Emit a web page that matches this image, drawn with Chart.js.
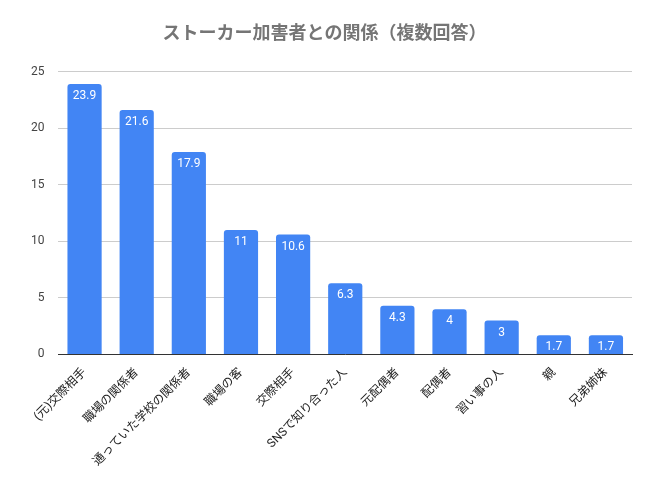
<!DOCTYPE html>
<html>
<head>
<meta charset="utf-8">
<script src="https://cdn.jsdelivr.net/npm/chart.js@4"></script>
<style>
body { margin: 0; background: #fff; }
#wrap { width: 652px; height: 478px; }
</style>
</head>
<body>
<div id="wrap"><canvas id="chart"></canvas></div>
<script>
const categories = ['(元)交際相手', '職場の関係者', '通っていた学校の関係者', '職場の客', '交際相手',
    'SNSで知り合った人', '元配偶者', '配偶者', '習い事の人', '親', '兄弟姉妹'];
const values = [23.9, 21.6, 17.9, 11, 10.6, 6.3, 4.3, 4, 3, 1.7, 1.7];
const yTicks = [0, 5, 10, 15, 20, 25];

const FONT = "Roboto, 'Noto Sans CJK JP', sans-serif";

// white value labels near the top of each bar
const valueLabels = {
    id: 'valueLabels',
    afterDatasetsDraw(chart) {
        const ctx = chart.ctx;
        const meta = chart.getDatasetMeta(0);
        ctx.save();
        ctx.fillStyle = '#ffffff';
        ctx.font = '12px ' + FONT;
        ctx.textAlign = 'center';
        ctx.textBaseline = 'top';
        meta.data.forEach(function(bar, i) {
            ctx.fillText(String(values[i]), bar.x, bar.y + 6);
        });
        ctx.restore();
    }
};

new Chart(document.getElementById('chart'), {
    type: 'bar',
    data: {
        labels: categories,
        datasets: [{
            data: values,
            backgroundColor: '#4285f4',
            borderRadius: { topLeft: 3, topRight: 3 },
            borderSkipped: 'bottom',
            categoryPercentage: 0.8,
            barPercentage: 0.82
        }]
    },
    options: {
        responsive: true,
        maintainAspectRatio: false,
        animation: false,
        layout: { padding: { left: 17, right: 20, top: 10, bottom: 6 } },
        plugins: {
            legend: { display: false },
            tooltip: { enabled: false },
            title: {
                display: true,
                text: 'ストーカー加害者との関係（複数回答）',
                color: '#757575',
                font: { family: FONT, size: 18, weight: 'bold' },
                padding: { top: 14, bottom: 26 }
            }
        },
        scales: {
            x: {
                grid: { display: false },
                border: { color: '#333333' },
                ticks: {
                    color: '#222222',
                    font: { family: FONT, size: 12 },
                    maxRotation: 45,
                    minRotation: 45,
                    autoSkip: false
                }
            },
            y: {
                min: 0,
                max: 25,
                afterBuildTicks: function(axis) {
                    axis.ticks = yTicks.map(function(v) { return { value: v }; });
                },
                grid: { color: '#cccccc', drawTicks: false },
                border: { display: false },
                ticks: {
                    color: '#444444',
                    padding: 14,
                    font: { family: FONT, size: 12 }
                }
            }
        }
    },
    plugins: [valueLabels]
});
</script>
</body>
</html>
